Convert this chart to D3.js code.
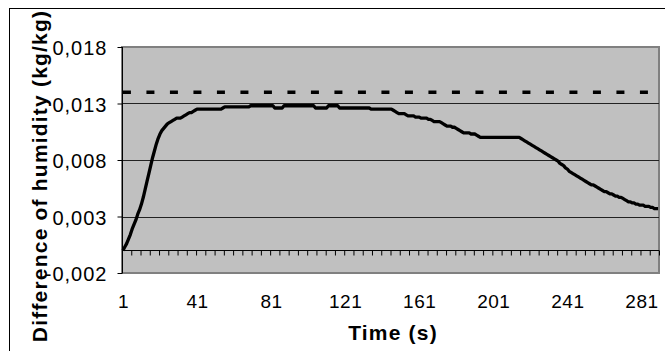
<!DOCTYPE html>
<html>
<head>
<meta charset="utf-8">
<script src="https://cdn.jsdelivr.net/npm/d3@7"></script>
<style>
  html, body { margin: 0; padding: 0; background: #fff; }
  svg { display: block; }
  text { font-family: "Liberation Sans", Arial, sans-serif; }
</style>
</head>
<body>
<svg id="chart" width="665" height="351"></svg>
<script>
// ---- Data ----
const humidityDiff = [
  0.0000, 0.0003, 0.0006, 0.0010, 0.0014, 0.0019, 0.0023, 0.0027, 0.0032, 0.0036,
  0.0041, 0.0047, 0.0054, 0.0061, 0.0068, 0.0075, 0.0082, 0.0088, 0.0094, 0.0099,
  0.0103, 0.0106, 0.0108, 0.0110, 0.0112, 0.0113, 0.0114, 0.0115, 0.0116, 0.0117,
  0.0117, 0.0117, 0.0118, 0.0119, 0.0120, 0.0121, 0.0122, 0.0122, 0.0123, 0.0124,
  0.0125, 0.0125, 0.0125, 0.0125, 0.0125, 0.0125, 0.0125, 0.0125, 0.0125, 0.0125,
  0.0125, 0.0125, 0.0125, 0.0125, 0.0126, 0.0127, 0.0127, 0.0127, 0.0127, 0.0127,
  0.0127, 0.0127, 0.0127, 0.0127, 0.0127, 0.0127, 0.0127, 0.0127, 0.0127, 0.0128,
  0.0128, 0.0128, 0.0128, 0.0128, 0.0128, 0.0128, 0.0128, 0.0128, 0.0128, 0.0128,
  0.0128, 0.0128, 0.0126, 0.0126, 0.0126, 0.0126, 0.0126, 0.0128, 0.0128, 0.0128,
  0.0128, 0.0128, 0.0128, 0.0128, 0.0128, 0.0128, 0.0128, 0.0128, 0.0128, 0.0128,
  0.0128, 0.0128, 0.0128, 0.0128, 0.0126, 0.0126, 0.0126, 0.0126, 0.0126, 0.0126,
  0.0126, 0.0128, 0.0128, 0.0128, 0.0128, 0.0128, 0.0128, 0.0126, 0.0126, 0.0126,
  0.0126, 0.0126, 0.0126, 0.0126, 0.0126, 0.0126, 0.0126, 0.0126, 0.0126, 0.0126,
  0.0126, 0.0126, 0.0126, 0.0126, 0.0125, 0.0125, 0.0125, 0.0125, 0.0125, 0.0125,
  0.0125, 0.0125, 0.0125, 0.0125, 0.0125, 0.0125, 0.0124, 0.0123, 0.0122, 0.0121,
  0.0121, 0.0121, 0.0121, 0.0120, 0.0119, 0.0119, 0.0119, 0.0119, 0.0118, 0.0118,
  0.0118, 0.0117, 0.0117, 0.0117, 0.0117, 0.0116, 0.0116, 0.0115, 0.0114, 0.0114,
  0.0114, 0.0114, 0.0113, 0.0112, 0.0111, 0.0110, 0.0110, 0.0110, 0.0109, 0.0109,
  0.0108, 0.0107, 0.0106, 0.0105, 0.0104, 0.0104, 0.0104, 0.0104, 0.0103, 0.0103,
  0.0103, 0.0102, 0.0101, 0.0100, 0.0100, 0.0100, 0.0100, 0.0100, 0.0100, 0.0100,
  0.0100, 0.0100, 0.0100, 0.0100, 0.0100, 0.0100, 0.0100, 0.0100, 0.0100, 0.0100,
  0.0100, 0.0100, 0.0100, 0.0100, 0.0100, 0.0099, 0.0098, 0.0097, 0.0096, 0.0095,
  0.0094, 0.0093, 0.0092, 0.0091, 0.0090, 0.0089, 0.0088, 0.0087, 0.0086, 0.0085,
  0.0084, 0.0083, 0.0082, 0.0081, 0.0080, 0.0079, 0.0077, 0.0076, 0.0075, 0.0073,
  0.0072, 0.0070, 0.0069, 0.0068, 0.0067, 0.0066, 0.0065, 0.0064, 0.0063, 0.0062,
  0.0061, 0.0060, 0.0059, 0.0058, 0.0058, 0.0057, 0.0056, 0.0055, 0.0054, 0.0053,
  0.0052, 0.0052, 0.0051, 0.0050, 0.0050, 0.0049, 0.0048, 0.0048, 0.0047, 0.0047,
  0.0046, 0.0045, 0.0044, 0.0043, 0.0043, 0.0042, 0.0042, 0.0041, 0.0041, 0.0040,
  0.0040, 0.0040, 0.0039, 0.0039, 0.0039, 0.0038, 0.0038, 0.0037, 0.0037, 0.0037
];
const timeCategories = humidityDiff.map((_, i) => i + 1);      // 1 .. 290 s
const xTickLabels = ["1", "41", "81", "121", "161", "201", "241", "281"];
const yTickValues = [-0.002, 0.003, 0.008, 0.013, 0.018];
const limitValue = 0.014;                                       // dashed reference line
const xTitle = "Time (s)";
const yTitle = "Difference of humidity (kg/kg)";

// ---- Layout ----
const svg = d3.select("#chart");
const plot = { left: 122, right: 659, top: 47, bottom: 273 };
const n = timeCategories.length;

// category edges on a linear scale; points sit in the middle of each category slot
const xEdge = d3.scaleLinear().domain([0, n]).range([plot.left, plot.right]);
const xCat = c => xEdge(c - 0.5);
const y = d3.scaleLinear().domain([-0.002, 0.018]).range([plot.bottom, plot.top]);

// outer chart border (cropped at right/bottom)
svg.append("rect").attr("x", 9.5).attr("y", 8.5).attr("width", 700).attr("height", 400)
  .attr("fill", "#fff").attr("stroke", "#000").attr("stroke-width", 1);

// plot area
svg.append("rect")
  .attr("x", plot.left).attr("y", plot.top)
  .attr("width", plot.right - plot.left).attr("height", plot.bottom - plot.top)
  .attr("fill", "#c0c0c0").attr("stroke", "#808080").attr("stroke-width", 2);

// gridlines
svg.append("g").selectAll("line")
  .data(yTickValues.filter(v => v > -0.002 && v < 0.018))
  .join("line")
  .attr("x1", plot.left).attr("x2", plot.right)
  .attr("y1", d => Math.round(y(d)) + 0.5).attr("y2", d => Math.round(y(d)) + 0.5)
  .attr("stroke", "#222").attr("stroke-width", 1);

// y axis
const fmt = v => d3.format(".3f")(v).replace(".", ",").replace("−", "-");
const yAxis = svg.append("g")
  .attr("transform", `translate(${plot.left + 0.5},0)`)
  .call(d3.axisLeft(y).tickValues(yTickValues).tickSize(5).tickPadding(10).tickFormat(fmt));
yAxis.select(".domain").attr("stroke", "#000").attr("d", `M0,${plot.top}V${plot.bottom}`);
yAxis.selectAll(".tick line").attr("stroke", "#000");
yAxis.selectAll(".tick text")
  .attr("font-size", 20).attr("fill", "#000").attr("letter-spacing", 1)
  .attr("dy", "0.38em").style("font-family", "'Liberation Sans', Arial, sans-serif");

// x axis line at value 0 with tick marks every 5 categories
const xAxis = svg.append("g")
  .attr("transform", `translate(0,${Math.round(y(0)) + 0.5})`)
  .call(d3.axisBottom(xEdge).tickValues(d3.range(0, n + 1, 5)).tickSize(5).tickFormat(""));
xAxis.select(".domain").attr("stroke", "#000").attr("d", `M${plot.left},0H${plot.right}`);
xAxis.selectAll(".tick line").attr("stroke", "#000");

// x tick labels (low position, below plot)
const labelScale = d3.scalePoint().domain(xTickLabels).range([xCat(1), xCat(281)]);
const xLab = svg.append("g")
  .attr("transform", `translate(0,${plot.bottom})`)
  .call(d3.axisBottom(labelScale).tickSize(0).tickPadding(22));
xLab.select(".domain").remove();
xLab.selectAll(".tick text")
  .attr("font-size", 19).attr("fill", "#000").attr("letter-spacing", 0.5)
  .attr("dy", "0.71em").style("font-family", "'Liberation Sans', Arial, sans-serif");

// dashed limit line
svg.append("line")
  .attr("x1", xCat(1)).attr("x2", xCat(n))
  .attr("y1", y(limitValue)).attr("y2", y(limitValue))
  .attr("stroke", "#000").attr("stroke-width", 3.5).attr("stroke-dasharray", "8,15.5");

// humidity difference line
const line = d3.line().x((d, i) => xCat(timeCategories[i])).y(d => y(d));
svg.append("path").datum(humidityDiff)
  .attr("d", line).attr("fill", "none")
  .attr("stroke", "#000").attr("stroke-width", 3.3).attr("stroke-linejoin", "round");

// axis titles
svg.append("text")
  .attr("x", 393).attr("y", 340).attr("text-anchor", "middle")
  .attr("font-size", 21).attr("font-weight", "bold").attr("letter-spacing", 1.2)
  .text(xTitle);
svg.append("text")
  .attr("transform", "translate(47,176) rotate(-90)").attr("text-anchor", "middle")
  .attr("font-size", 21).attr("font-weight", "bold").attr("letter-spacing", 1.2)
  .text(yTitle);
</script>
</body>
</html>
